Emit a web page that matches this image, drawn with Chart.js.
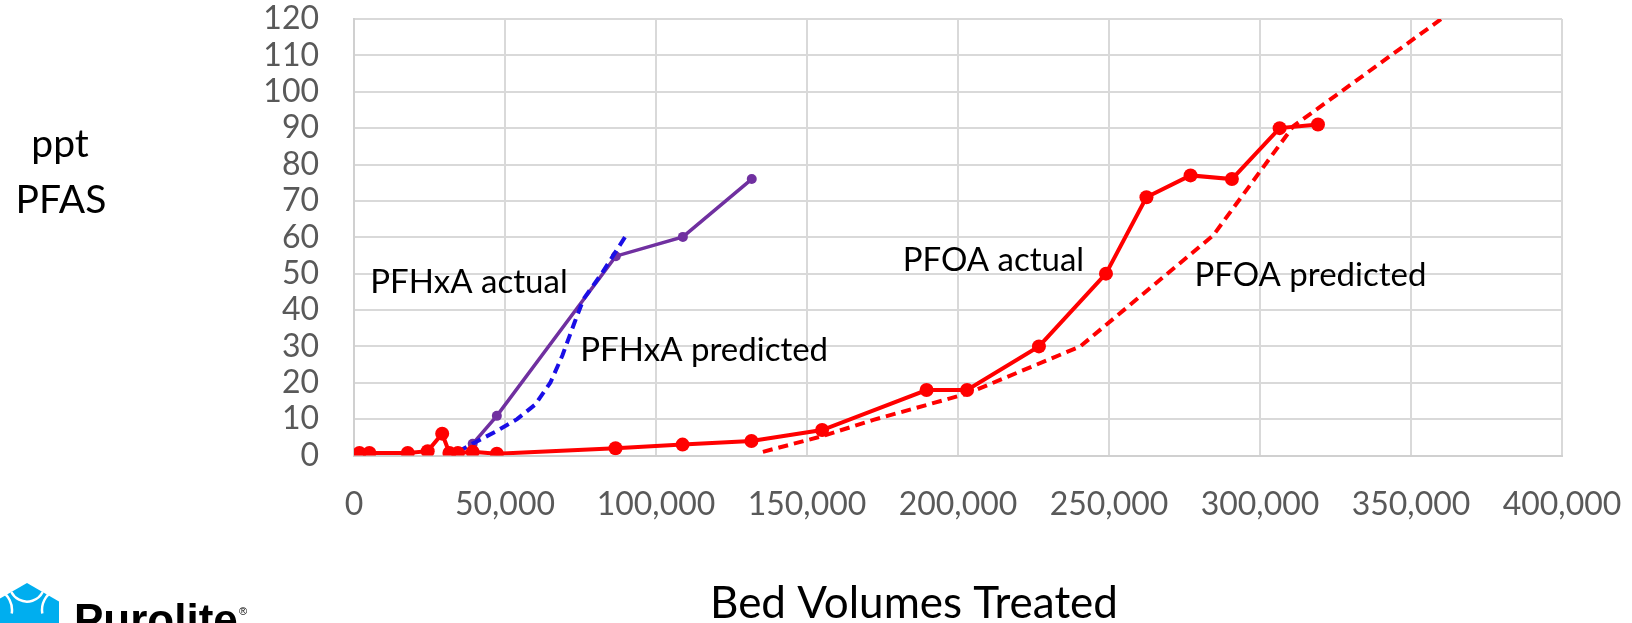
<!DOCTYPE html>
<html>
<head>
<meta charset="utf-8">
<script src="https://cdn.jsdelivr.net/npm/chart.js@4"></script>
<style>
  body { margin: 0; background: #fff; }
  canvas { display: block; }
</style>
</head>
<body>
<canvas id="chart" width="1632" height="623"></canvas>
<script>
// Bed volumes treated (x) and concentration in ppt (y) for each series
const pfoaActualBV = [1800, 5100, 17800, 24400, 29200, 31600, 34400, 39300, 47300, 86600, 108800,
    131600, 155000, 189600, 203000, 226800, 249000, 262400, 277000, 290700, 306500, 319200];
const pfoaActualPpt = [0.7, 0.7, 0.7, 1.2, 6, 0.7, 0.7, 1, 0.5, 2, 3,
    4, 7, 18, 18, 30, 50, 71, 77, 76, 90, 91];

const pfoaPredBV = [135400, 155000, 172000, 203000, 240500, 284500, 311000, 360000];
const pfoaPredPpt = [1, 5.3, 9.8, 17, 30, 60.5, 90.5, 120];

const pfhxaActualBV = [39300, 47300, 86700, 108900, 131700];
const pfhxaActualPpt = [3.2, 10.9, 54.8, 60.1, 76];

const pfhxaPredBV = [34400, 40500, 47000, 54000, 60000, 65000, 69000, 73000, 76000, 82000, 90100];
const pfhxaPredPpt = [1, 3.8, 6.6, 10, 14, 20, 27.5, 36.5, 43, 50, 60.5];

const xTicks = [0, 50000, 100000, 150000, 200000, 250000, 300000, 350000, 400000];
const yTicks = [0, 10, 20, 30, 40, 50, 60, 70, 80, 90, 100, 110, 120];

const FONT = 'Lato, "Open Sans", sans-serif';

function toPoints(xs, ys) {
    return xs.map((x, i) => ({ x: x, y: ys[i] }));
}

// free text: series labels in data units, axis captions and the logo in pixels
const extraText = {
    id: 'extraText',
    afterDraw(chart) {
        const { ctx, scales: { x, y } } = chart;
        ctx.save();
        ctx.fillStyle = '#000';
        ctx.textBaseline = 'alphabetic';

        ctx.font = '33px ' + FONT;
        ctx.textAlign = 'left';
        ctx.fillText('PFHxA actual', x.getPixelForValue(5400), y.getPixelForValue(44.6));
        ctx.fillText('PFHxA predicted', x.getPixelForValue(74900), y.getPixelForValue(26));
        ctx.fillText('PFOA actual', x.getPixelForValue(181700), y.getPixelForValue(50.8));
        ctx.fillText('PFOA predicted', x.getPixelForValue(278300), y.getPixelForValue(46.6));

        ctx.textAlign = 'center';
        ctx.font = '39px ' + FONT;
        ctx.fillText('ppt', 60, 157);
        ctx.fillText('PFAS', 61, 213);

        ctx.font = '44px ' + FONT;
        ctx.fillText('Bed Volumes Treated', 914, 618);

        // logo, cut by the bottom edge
        ctx.fillStyle = '#00aeef';
        ctx.beginPath();
        ctx.moveTo(27, 583);
        ctx.lineTo(59, 601.5);
        ctx.lineTo(59, 640);
        ctx.lineTo(-5, 640);
        ctx.lineTo(-5, 601.5);
        ctx.closePath();
        ctx.fill();
        ctx.strokeStyle = '#fff';
        ctx.lineWidth = 2.5;
        ctx.beginPath();
        ctx.arc(27, 584, 17.6, 0.15 * Math.PI, 0.85 * Math.PI);
        ctx.stroke();
        ctx.beginPath();
        ctx.arc(64, 610, 22, 0.95 * Math.PI, 1.35 * Math.PI);
        ctx.stroke();
        ctx.beginPath();
        ctx.arc(-10, 610, 22, -0.35 * Math.PI, 0.05 * Math.PI);
        ctx.stroke();

        ctx.fillStyle = '#000';
        ctx.textAlign = 'left';
        ctx.font = 'bold 44px "Liberation Sans", Arial, sans-serif';
        ctx.fillText('Purolite', 74, 635);
        ctx.font = '11px "Liberation Sans", Arial, sans-serif';
        ctx.fillText('®', 239, 615);
        ctx.restore();
    }
};

new Chart(document.getElementById('chart'), {
    type: 'scatter',
    data: {
        datasets: [
            {
                label: 'PFOA actual',
                data: toPoints(pfoaActualBV, pfoaActualPpt),
                showLine: true,
                borderColor: '#ff0000',
                backgroundColor: '#ff0000',
                borderWidth: 4,
                pointRadius: 7,
                pointBorderWidth: 0,
                order: 0
            },
            {
                label: 'PFHxA predicted',
                data: toPoints(pfhxaPredBV, pfhxaPredPpt),
                showLine: true,
                borderColor: '#1a0ee6',
                borderWidth: 4,
                borderDash: [10, 6],
                pointRadius: 0,
                order: 1
            },
            {
                label: 'PFHxA actual',
                data: toPoints(pfhxaActualBV, pfhxaActualPpt),
                showLine: true,
                borderColor: '#7030a0',
                backgroundColor: '#7030a0',
                borderWidth: 3.5,
                pointRadius: 5,
                pointBorderWidth: 0,
                order: 2
            },
            {
                label: 'PFOA predicted',
                data: toPoints(pfoaPredBV, pfoaPredPpt),
                showLine: true,
                borderColor: '#ff0000',
                borderWidth: 4,
                borderDash: [10, 6],
                pointRadius: 0,
                order: 3
            }
        ]
    },
    options: {
        responsive: false,
        animation: false,
        layout: { padding: { top: 19, right: 70, left: 0, bottom: 0 } },
        plugins: {
            legend: { display: false },
            tooltip: { enabled: false }
        },
        scales: {
            x: {
                type: 'linear',
                min: xTicks[0],
                max: xTicks[xTicks.length - 1],
                afterBuildTicks: axis => { axis.ticks = xTicks.map(v => ({ value: v })); },
                afterFit: axis => { axis.height = 167.5; },
                // invisible tick marks give the gap between axis and labels
                grid: { color: '#d9d9d9', lineWidth: 2, tickLength: 30, tickColor: 'rgba(0,0,0,0)' },
                border: { color: '#d0d0d0', width: 2 },
                ticks: {
                    padding: 0,
                    autoSkip: false,
                    color: '#595959',
                    font: { family: FONT, size: 32 },
                    maxRotation: 0,
                    callback: v => v.toLocaleString('en-US')
                }
            },
            y: {
                type: 'linear',
                min: yTicks[0],
                max: yTicks[yTicks.length - 1],
                afterBuildTicks: axis => { axis.ticks = yTicks.map(v => ({ value: v })); },
                afterFit: axis => { axis.width = 354; },
                grid: { color: '#d9d9d9', lineWidth: 2, tickLength: 35, tickColor: 'rgba(0,0,0,0)' },
                border: { color: '#d0d0d0', width: 2 },
                ticks: {
                    padding: 0,
                    autoSkip: false,
                    color: '#595959',
                    font: { family: FONT, size: 32, lineHeight: 1 }
                }
            }
        }
    },
    plugins: [extraText]
});
</script>
</body>
</html>
